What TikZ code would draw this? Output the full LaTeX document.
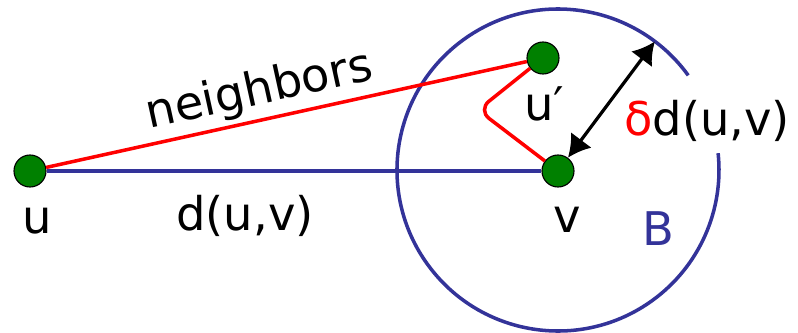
\documentclass[tikz,border=0pt]{standalone}
\usepackage{fontspec}
\setmainfont{DejaVu Sans}
\usetikzlibrary{arrows.meta,calc}

\definecolor{ballblue}{RGB}{51,51,153}
\definecolor{ptgreen}{RGB}{0,128,0}

\begin{document}
\begin{tikzpicture}[
  x=0.025cm,
  y=0.025cm,
  font=\fontsize{33}{40}\selectfont,
  pt/.style={circle,draw=black,line width=0.8pt,fill=ptgreen,minimum size=0.8cm,inner sep=0pt},
  dist/.style={draw=ballblue,line width=2.9pt},
  nbr/.style={draw=red,line width=2.5pt},
  ball/.style={draw=ballblue,line width=2.5pt},
  reach/.style={draw=black,line width=2.3pt,{Latex[length=0.55cm,width=0.65cm]}-{Latex[length=0.55cm,width=0.65cm]}},
  lbl/.style={anchor=base,inner sep=0pt}
]
\useasboundingbox (0,0) rectangle (798,332);

% Ball around v
\coordinate (c) at (558,162);
\draw[ball] (c) ++(36:161) arc[start angle=36,end angle=366,radius=161];
\coordinate (rim) at ($(c)+(53:161)$);

% Points
\node[pt] (u) at (30,161) {};
\node[pt] (v) at (558,161) {};
\node[pt] (up) at (543,274) {};

% Connections
\draw[dist] (u) -- (v);
\draw[nbr] (u) -- (up);
\draw[nbr,rounded corners=10pt] (up) -- (478,222) -- (v);
\draw[reach] (v) -- (rim);

% Labels
\node[lbl,rotate=12.4] (nb) at (262,228) {neighbors};
\node[lbl] (ul) at (37,99) {u};
\node[lbl] (dl) at (245,102) {d(u,v)};
\node[lbl] (vl) at (567,100) {v};
\node[lbl] (upl) at (544,212) {u′};
\node[lbl,text=ballblue] (bl) at (658,87) {B};
\node[lbl] (rl) at (707,197) {\textcolor{red}{δ}d(u,v)};

\end{tikzpicture}
\end{document}
